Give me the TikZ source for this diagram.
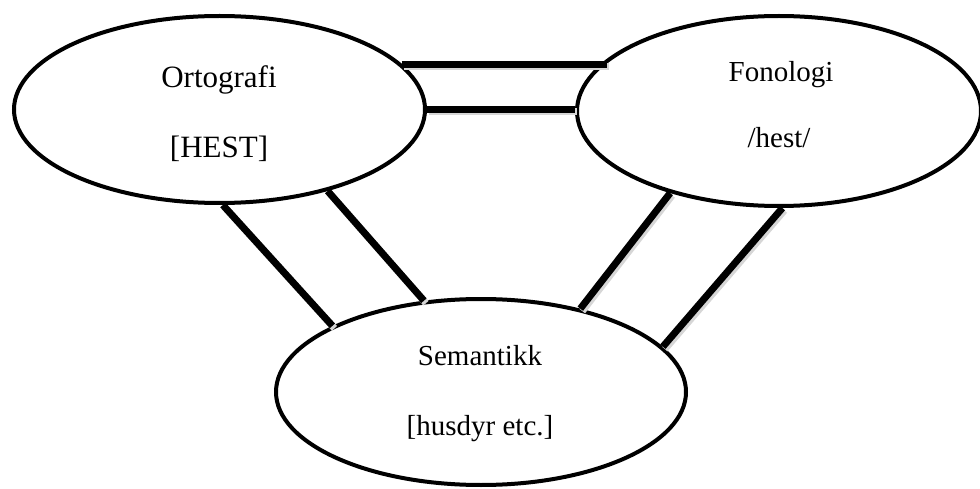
\documentclass[tikz,border=0pt]{standalone}
\usepackage{fontspec}
\setmainfont{Liberation Serif}
\usetikzlibrary{shapes.geometric}
\tikzset{
  bubble/.style={draw, ellipse, line width=4pt, inner sep=0pt},
  link/.style={line width=7pt},
  linkshade/.style={line width=7pt, black!16, transform canvas={shift={(2pt,-2.5pt)}}},
  lbl/.style={anchor=base, inner sep=0pt, font=\fontsize{29}{29}\selectfont},
  lblbig/.style={lbl, font=\fontsize{31}{31}\selectfont},
}
\begin{document}
\begin{tikzpicture}[x=1pt, y=-1pt]
  \useasboundingbox (0,0) rectangle (980,489);

  % the three domains
  \node[bubble, minimum width=411pt, minimum height=187pt] (O) at (219.5,109.5) {};
  \node[bubble, minimum width=404pt, minimum height=190pt] (F) at (779,111) {};
  \node[bubble, minimum width=410pt, minimum height=186pt] (S) at (481,392) {};

  % labels
  \node[lblbig] (o1) at (219,88) {Ortografi};
  \node[lblbig] (o2) at (219,158) {[HEST]};
  \node[lbl] (f1) at (781,82) {Fonologi};
  \node[lbl] (f2) at (779,148) {/hest/};
  \node[lbl] (s1) at (480,365) {Semantikk};
  \node[lbl] (s2) at (480,435) {[husdyr etc.]};

  % soft shadows under the links
  \draw[linkshade, shorten >=-6pt] (O.14) -- (O.14 -| F.165);
  \draw[linkshade] (O.east) -- (O.east -| F.west);
  \draw[linkshade] (O.-88) -- (S.156);
  \draw[linkshade] (O.-37) -- (S.122);
  \draw[linkshade] (F.217) -- (S.40);
  \draw[linkshade] (F.-88) -- (S.14);

  % double links between the domains
  \draw[link, shorten >=-6pt] (O.14) -- (O.14 -| F.165);
  \draw[link] (O.east) -- (O.east -| F.west);
  \draw[link] (O.-88) -- (S.156);
  \draw[link] (O.-37) -- (S.122);
  \draw[link] (F.217) -- (S.40);
  \draw[link] (F.-88) -- (S.14);
\end{tikzpicture}
\end{document}
